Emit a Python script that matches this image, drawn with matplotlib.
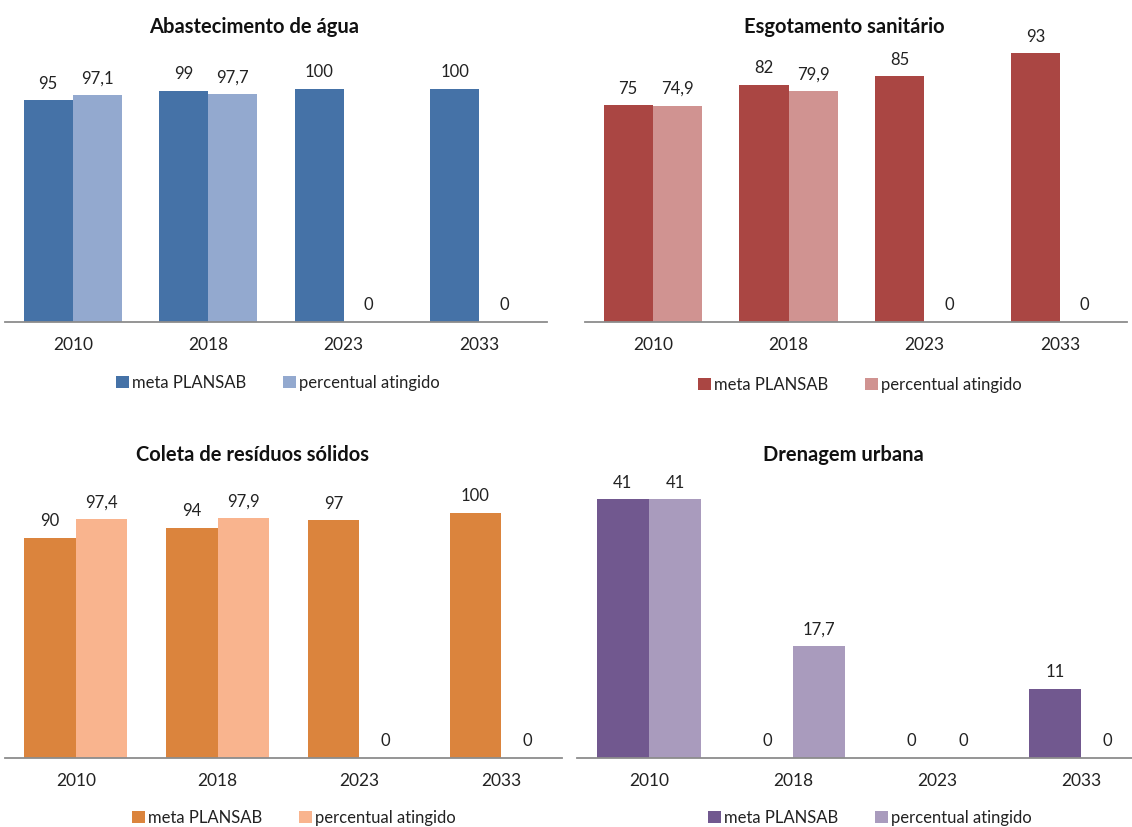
import matplotlib.pyplot as plt
from matplotlib.patches import Patch
import numpy as np

plt.rcParams["font.family"] = ["Lato", "DejaVu Sans"]

# ---------------------------------------------------------------------------
# Data
# ---------------------------------------------------------------------------

years = ["2010", "2018", "2023", "2033"]
series_names = ["meta PLANSAB", "percentual atingido"]

agua_meta = [95, 99, 100, 100]
agua_atingido = [97.1, 97.7, 0, 0]

esgoto_meta = [75, 82, 85, 93]
esgoto_atingido = [74.9, 79.9, 0, 0]

residuos_meta = [90, 94, 97, 100]
residuos_atingido = [97.4, 97.9, 0, 0]

drenagem_meta = [41, 0, 0, 11]
drenagem_atingido = [41, 17.7, 0, 0]

W, H = 1132, 827

# title, meta, atingido, colours, axes box in pixels (left, right, top, axis_y), ymax,
# title centre (x, y), legend centre (x, y), visible end of the axis line (in px)
panels = [
    ("Abastecimento de água", agua_meta, agua_atingido, ("#4572A7", "#93A9CF"),
     (5, 547, 42, 322), 120, (254, 27), (278, 383), 547),
    ("Esgotamento sanitário", esgoto_meta, esgoto_atingido, ("#AA4643", "#D09391"),
     (585, 1128, 33, 322), 100, (844, 27), (860, 385), 1127),
    ("Coleta de resíduos sólidos", residuos_meta, residuos_atingido, ("#DB843D", "#F9B48E"),
     (5, 572, 464, 758), 120, (253, 455), (294, 818), 562),
    ("Drenagem urbana", drenagem_meta, drenagem_atingido, ("#71588F", "#A99BBD"),
     (577, 1153, 474, 758), 45, (843, 455), (870, 818), 1153),
]


def fmt(v):
    return f"{v:g}".replace(".", ",")


fig = plt.figure(figsize=(W / 100, H / 100), dpi=100)

for title, meta, ating, colors, box, ymax, tpos, lpos, line_end in panels:
    left, right, top, base = box
    ax = fig.add_axes([left / W, 1 - base / H, (right - left) / W, (base - top) / H])
    x = np.arange(len(years))
    w = 0.363
    b1 = ax.bar(x - w / 2, meta, w, color=colors[0], linewidth=0)
    b2 = ax.bar(x + w / 2, ating, w, color=colors[1], linewidth=0)
    for bars, vals in ((b1, meta), (b2, ating)):
        for rect, v in zip(bars, vals):
            ax.annotate(fmt(v), (rect.get_x() + rect.get_width() / 2, v),
                        xytext=(0, 12), textcoords="offset points",
                        ha="center", va="center", fontsize=12, color="#222222")
    ax.set_xlim(-0.5, len(years) - 0.5)
    ax.set_ylim(0, ymax)
    ax.set_xticks(x)
    ax.set_xticklabels(years, fontsize=12.5, color="#222222")
    ax.tick_params(axis="x", length=0, pad=11)
    ax.set_yticks([])
    for s in ("top", "right", "left"):
        ax.spines[s].set_visible(False)
    ax.spines["bottom"].set_color("#8C8C8C")
    ax.spines["bottom"].set_linewidth(1.3)
    # shorten the axis line where the next panel begins
    end = -0.5 + (line_end - left) / (right - left) * len(years)
    ax.spines["bottom"].set_bounds(-0.5, end)
    ax.patch.set_alpha(0)

    fig.text(tpos[0] / W, 1 - tpos[1] / H, title, ha="center", va="center",
             fontsize=14.5, fontweight="bold", color="#111111")

    handles = [Patch(facecolor=colors[0]), Patch(facecolor=colors[1])]
    fig.legend(handles, series_names, loc="center",
               bbox_to_anchor=(lpos[0] / W, 1 - lpos[1] / H), ncol=2,
               frameon=False, fontsize=12, handlelength=0.75, handleheight=0.75,
               handletextpad=0.2, columnspacing=2.2, labelcolor="#222222")

fig.savefig("out.png", dpi=100)
